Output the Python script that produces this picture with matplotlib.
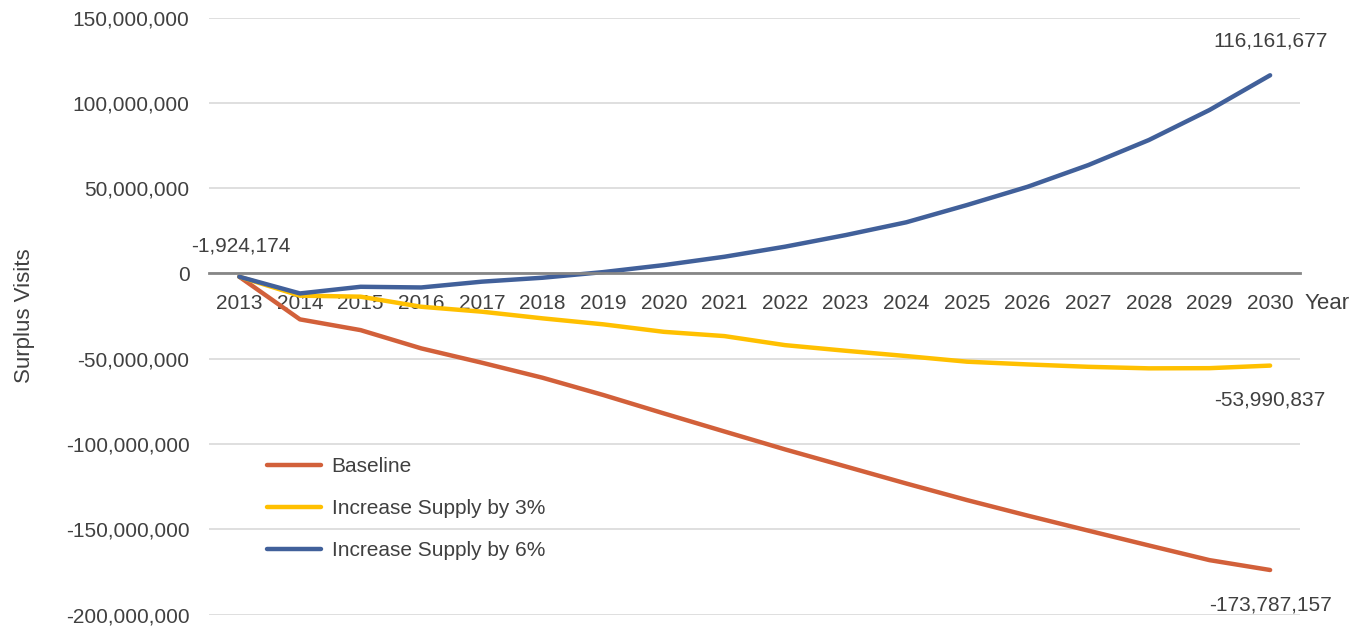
import matplotlib.pyplot as plt
from matplotlib.ticker import FuncFormatter

# years and scenario values (surplus visits)
years = list(range(2013, 2031))
baseline = [-1924174, -26900000, -33200000, -43900000, -52300000, -61100000,
            -71200000, -82000000, -92600000, -103100000, -113100000, -123100000,
            -132800000, -141900000, -150700000, -159400000, -168000000, -173787157]
supply_3 = [-1924174, -13000000, -13600000, -19500000, -22400000, -26300000,
            -29800000, -34200000, -36700000, -42000000, -45300000, -48400000,
            -51700000, -53300000, -54700000, -55600000, -55500000, -53990837]
supply_6 = [-1924174, -11700000, -7800000, -8200000, -4800000, -2500000,
            800000, 4900000, 9800000, 15700000, 22500000, 30000000,
            40100000, 50800000, 63500000, 78200000, 95800000, 116161677]

series_names = ["Baseline", "Increase Supply by 3%", "Increase Supply by 6%"]
colors = ["#D2603A", "#FFC000", "#41609A"]

plt.rcParams["font.family"] = ["Liberation Sans Narrow", "Liberation Sans", "DejaVu Sans"]
text_color = "#404040"
fs = 15

fig = plt.figure(figsize=(13.66, 6.26), dpi=100)
ax = fig.add_axes([0.153, 0.018, 0.799, 0.954])

for vals, name, c in zip([baseline, supply_3, supply_6], series_names, colors):
    ax.plot(years, vals, color=c, lw=3.2, label=name, solid_capstyle="round")

ax.set_xlim(2012.5, 2030.5)
ax.set_ylim(-200000000, 150000000)
ax.set_yticks(range(-200000000, 150000001, 50000000))
ax.yaxis.set_major_formatter(FuncFormatter(lambda v, p: f"{int(v):,}"))
ax.grid(axis="y", color="#D9D9D9", lw=1.2)
ax.set_axisbelow(True)

for s in ["top", "right", "left"]:
    ax.spines[s].set_visible(False)
ax.spines["bottom"].set_position(("data", 0))
ax.spines["bottom"].set_color("#868686")
ax.spines["bottom"].set_linewidth(2)

ax.set_xticks(years)
ax.set_xticklabels([str(y) for y in years])
ax.tick_params(axis="x", length=0, pad=15, labelsize=fs, labelcolor=text_color)
ax.tick_params(axis="y", length=0, pad=14, labelsize=fs, labelcolor=text_color)

ax.set_ylabel("Surplus Visits", fontsize=16, color=text_color, labelpad=22)
ax.text(1.004, 200000000 / 350000000 - 0.032, "Year", transform=ax.transAxes,
        fontsize=16, color=text_color, va="top", ha="left")

# data labels
ax.annotate(f"{supply_6[0]:,}", (years[0], supply_6[0]), xytext=(1, 18),
            textcoords="offset points", ha="center", fontsize=fs, color=text_color)
ax.annotate(f"{supply_6[-1]:,}", (years[-1], supply_6[-1]), xytext=(0, 18),
            textcoords="offset points", ha="center", va="bottom", fontsize=fs, color=text_color)
ax.annotate(f"{supply_3[-1]:,}", (years[-1], supply_3[-1]), xytext=(0, -18),
            textcoords="offset points", ha="center", va="top", fontsize=fs, color=text_color)
ax.annotate(f"{baseline[-1]:,}", (years[-1], baseline[-1]), xytext=(0, -18),
            textcoords="offset points", ha="center", va="top", fontsize=fs, color=text_color)

leg = ax.legend(loc="upper left", bbox_to_anchor=(0.036, 0.295), frameon=False,
                fontsize=fs, labelspacing=1.1, handlelength=2.6, handletextpad=0.5)
for t in leg.get_texts():
    t.set_color(text_color)

fig.savefig("out.png", dpi=100)
